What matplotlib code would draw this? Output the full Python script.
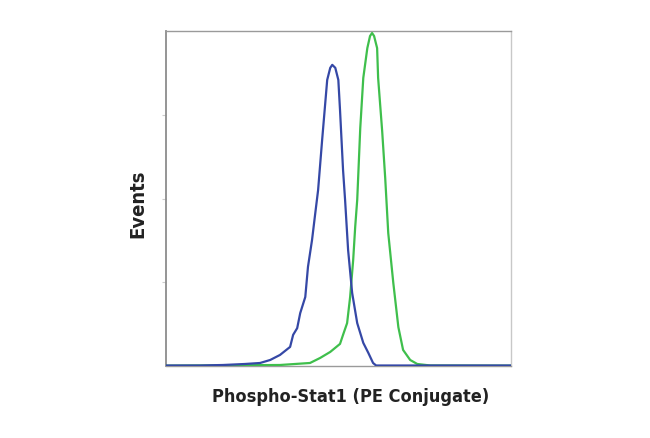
import matplotlib
matplotlib.use("Agg")
import matplotlib.pyplot as plt

# Channel (x) and event count (y, % of max)
blue_x = [0, 101, 169, 234, 279, 309, 338, 368, 377, 389, 398, 413, 421, 433, 442, 451,
          463, 478, 487, 493, 502, 511, 516, 525, 531, 540, 552, 567, 585, 600, 614, 623, 1023]
blue_y = [0.15, 0.15, 0.3, 0.6, 0.9, 1.8, 3.3, 5.7, 9.3, 11.3, 15.8, 20.6, 29.6, 37.6, 45.1, 52.5,
          67.5, 85.4, 89.0, 89.9, 89.0, 85.4, 76.4, 58.5, 49.6, 34.6, 21.8, 12.8, 6.9, 3.9, 0.9, 0.15, 0.15]

green_x = [0, 338, 427, 457, 487, 516, 525, 537, 546, 555, 561, 567, 576, 585, 597, 605, 611,
           617, 626, 629, 641, 650, 659, 674, 689, 703, 724, 745, 784, 1023]
green_y = [0.1, 0.3, 0.9, 2.4, 4.2, 6.6, 9.3, 12.8, 20.6, 31.6, 41.5, 49.6, 71.0, 86.0, 94.9, 98.5, 99.4,
           98.5, 94.9, 86.0, 70.1, 56.1, 39.7, 24.8, 11.6, 4.8, 1.8, 0.6, 0.15, 0.1]

x_label = "Phospho-Stat1 (PE Conjugate)"
y_label = "Events"

fig = plt.figure(figsize=(6.5, 4.38), dpi=100)
ax = fig.add_axes([166/650, 72/438, 345/650, 335/438])

ax.plot(green_x, green_y, color="#3fbf4c", lw=1.6, zorder=3)
ax.plot(blue_x, blue_y, color="#3548a6", lw=1.6, zorder=4)

ax.set_xlim(0, 1023)
ax.set_ylim(0, 100)

ax.set_xticks([])
ax.set_yticks([25, 50, 75])
ax.set_yticklabels([])
ax.tick_params(axis="y", direction="out", length=3, width=0.8, color="#cccccc")

ax.spines["left"].set_color("#8c8c8c")
ax.spines["left"].set_linewidth(1.3)
ax.spines["top"].set_color("#9a9a9a")
ax.spines["top"].set_linewidth(1.0)
ax.spines["right"].set_color("#c8c8c8")
ax.spines["right"].set_linewidth(1.0)
ax.spines["bottom"].set_color("#9a9a9a")
ax.spines["bottom"].set_linewidth(1.0)

font = dict(family=["DejaVu Sans"], stretch="condensed", weight="bold", color="#222222")
fig.text(351/650, 1 - 397/438, x_label, ha="center", va="center", fontsize=13, **font)
fig.text(138/650, 1 - 204/438, y_label, ha="center", va="center", rotation=90, fontsize=14.5, **font)

fig.savefig("out.png", dpi=100, facecolor="white")
